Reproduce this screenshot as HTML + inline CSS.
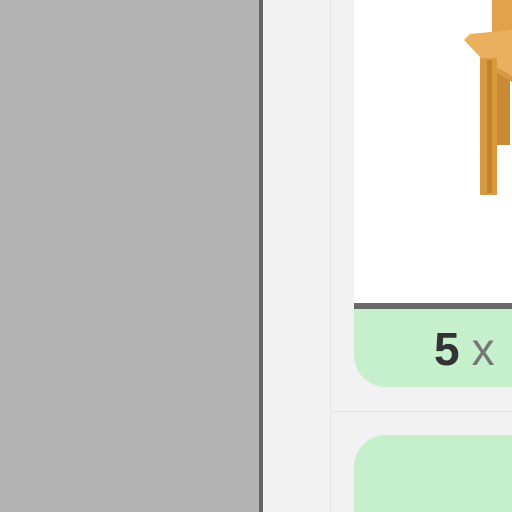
<!DOCTYPE html>
<html><head><meta charset="utf-8"><style>
html,body{margin:0;padding:0;width:512px;height:512px;overflow:hidden;background:#f2f2f2;font-family:"Liberation Sans",sans-serif;}
div{position:absolute;}
</style></head><body>
<div style="left:0;top:0;width:259px;height:512px;background:#b3b3b3"></div>
<div style="left:259px;top:0;width:4px;height:512px;background:#666"></div>
<div style="left:330px;top:0;width:1px;height:512px;background:#e4e4e4"></div>
<div style="left:330px;top:411px;width:182px;height:1px;background:#e4e4e4"></div>
<div style="left:354px;top:0;width:158px;height:303px;background:#fff">
<svg width="158" height="303" style="position:absolute;left:0;top:0">
<rect x="138" y="0" width="20" height="34" fill="#e2a24c"/>
<rect x="143" y="72" width="13" height="73" fill="#c98a35"/>
<polygon points="110,40 116,34 158,30 158,76 126,57" fill="#eab060"/>
<polygon points="126,57 158,76 158,82 128,64" fill="#d69a45"/>
<rect x="126" y="58" width="17" height="137" fill="#d9993f"/>
<rect x="133" y="60" width="5" height="133" fill="#c2832f"/>
</svg>
</div>
<div style="left:354px;top:303px;width:158px;height:6px;background:#6a6a6a"></div>
<div style="left:354px;top:309px;width:158px;height:78px;background:#c6efcb;border-bottom-left-radius:32px"></div>
<div style="left:434px;top:321px;font-size:46px;white-space:nowrap;line-height:56px"><b style="color:#333">5</b><span style="color:#777;margin-left:12px">x</span></div>
<div style="left:354px;top:435px;width:158px;height:77px;background:#c6efcb;border-top-left-radius:32px"></div>
</body></html>
